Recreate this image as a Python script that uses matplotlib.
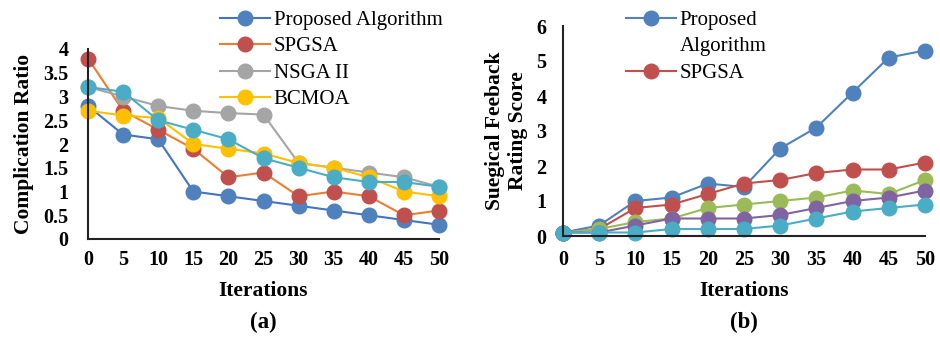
import matplotlib
matplotlib.use("Agg")
import matplotlib.pyplot as plt
from matplotlib.lines import Line2D

plt.rcParams['font.family'] = ['Liberation Serif', 'DejaVu Serif']

iterations = [0, 5, 10, 15, 20, 25, 30, 35, 40, 45, 50]

# Panel (a): Complication Ratio
a_names = ["Proposed Algorithm", "SPGSA", "NSGA II", "BCMOA", "Series 5"]
a_proposed = [2.8, 2.2, 2.1, 1.0, 0.9, 0.8, 0.7, 0.6, 0.5, 0.4, 0.3]
a_spgsa = [3.8, 2.7, 2.3, 1.9, 1.3, 1.4, 0.9, 1.0, 0.9, 0.5, 0.6]
a_nsga = [3.2, 3.0, 2.8, 2.7, 2.65, 2.62, 1.6, 1.5, 1.4, 1.3, 1.1]
a_bcmoa = [2.7, 2.6, 2.55, 2.0, 1.9, 1.8, 1.6, 1.5, 1.3, 1.0, 0.9]
a_s5 = [3.2, 3.1, 2.5, 2.3, 2.1, 1.7, 1.5, 1.3, 1.2, 1.2, 1.1]
a_yticks = [0, 0.5, 1, 1.5, 2, 2.5, 3, 3.5, 4]
a_yticklabels = ["0", "0.5", "1", "1.5", "2", "2.5", "3", "3.5", "4"]

# Panel (b): Surgical feedback rating score
b_names = ["Proposed", "SPGSA", "Series 3", "Series 4", "Series 5"]
b_name_cont = "Algorithm"
b_proposed = [0.1, 0.3, 1.0, 1.1, 1.5, 1.4, 2.5, 3.1, 4.1, 5.1, 5.3]
b_spgsa = [0.1, 0.2, 0.8, 0.9, 1.2, 1.5, 1.6, 1.8, 1.9, 1.9, 2.1]
b_s3 = [0.1, 0.2, 0.4, 0.5, 0.8, 0.9, 1.0, 1.1, 1.3, 1.2, 1.6]
b_s4 = [0.1, 0.1, 0.3, 0.5, 0.5, 0.5, 0.6, 0.8, 1.0, 1.1, 1.3]
b_s5 = [0.1, 0.1, 0.1, 0.2, 0.2, 0.2, 0.3, 0.5, 0.7, 0.8, 0.9]
b_yticks = [0, 1, 2, 3, 4, 5, 6]

a_series = [a_proposed, a_spgsa, a_nsga, a_bcmoa, a_s5]
a_line_colors = ["#4472C4", "#ED7D31", "#A5A5A5", "#FFC000", "#4BACC6"]
a_marker_colors = ["#4F81BD", "#C0504D", "#A5A5A5", "#FFC000", "#4BACC6"]

b_series = [b_proposed, b_spgsa, b_s3, b_s4, b_s5]
b_colors = ["#4F81BD", "#C0504D", "#9BBB59", "#8064A2", "#4BACC6"]

fig = plt.figure(figsize=(9.4, 3.39), dpi=100)

tick_fs = 14.5
label_fs = 15.5
leg_fs = 15
ms = 10.5
lw = 1.5

def style_axes(ax):
    for s in ["top", "right"]:
        ax.spines[s].set_visible(False)
    for s in ["left", "bottom"]:
        ax.spines[s].set_color("#222222")
        ax.spines[s].set_linewidth(1.5)
    ax.tick_params(length=0)
    for lab in ax.get_xticklabels() + ax.get_yticklabels():
        lab.set_fontweight("bold")
        lab.set_fontsize(tick_fs)

# ---- Panel (a)
ax1 = fig.add_axes([88/940, 1-239/339, 351/940, 190/339])
handles_a = []
for y, lc, mc, name in zip(a_series, a_line_colors, a_marker_colors, a_names):
    ln, = ax1.plot(iterations, y, color=lc, lw=lw, marker="o", ms=ms,
                   markerfacecolor=mc, markeredgecolor=mc, clip_on=False, label=name)
    handles_a.append(ln)
ax1.set_xlim(0, 50)
ax1.set_ylim(0, 4)
ax1.set_xticks(iterations)
ax1.set_yticks(a_yticks)
ax1.set_yticklabels(a_yticklabels)
ax1.tick_params(axis="y", pad=14)
ax1.tick_params(axis="x", pad=8)
style_axes(ax1)
ax1.set_ylabel("Complication Ratio", fontsize=label_fs, fontweight="bold", labelpad=7)
ax1.set_xlabel("Iterations", fontsize=label_fs, fontweight="bold", labelpad=8)
ax1.legend(handles=handles_a[:4], loc="upper left", bbox_to_anchor=(210/940, 1-0/339),
           bbox_transform=fig.transFigure, frameon=False, fontsize=leg_fs,
           handlelength=2.4, handletextpad=0.15, labelspacing=0.33, borderpad=0)
fig.text(263/940, 1-322/339, "(a)", ha="center", va="center",
         fontsize=label_fs+1, fontweight="bold")

# ---- Panel (b)
ax2 = fig.add_axes([563/940, 1-236/339, 362/940, 210/339])
handles_b = []
for y, c, name in zip(b_series, b_colors, b_names):
    ln, = ax2.plot(iterations, y, color=c, lw=lw, marker="o", ms=ms,
                   markerfacecolor=c, markeredgecolor=c, clip_on=False, label=name)
    handles_b.append(ln)
ax2.set_xlim(0, 50)
ax2.set_ylim(0, 6)
ax2.set_xticks(iterations)
ax2.set_yticks(b_yticks)
ax2.tick_params(axis="y", pad=12)
ax2.tick_params(axis="x", pad=10)
style_axes(ax2)
ax2.set_ylabel("Suegical Feeback\nRating Score", fontsize=label_fs, fontweight="bold", labelpad=6)
ax2.set_xlabel("Iterations", fontsize=label_fs, fontweight="bold", labelpad=8)
blank = Line2D([], [], color="none", marker=None)
ax2.legend(handles=[handles_b[0], blank, handles_b[1]],
           labels=[b_names[0], b_name_cont, b_names[1]],
           loc="upper left", bbox_to_anchor=(616/940, 1-0/339),
           bbox_transform=fig.transFigure, frameon=False, fontsize=leg_fs,
           handlelength=2.4, handletextpad=0.15, labelspacing=0.33, borderpad=0)
fig.text(744/940, 1-322/339, "(b)", ha="center", va="center",
         fontsize=label_fs+1, fontweight="bold")

fig.savefig("out.png", dpi=100)
